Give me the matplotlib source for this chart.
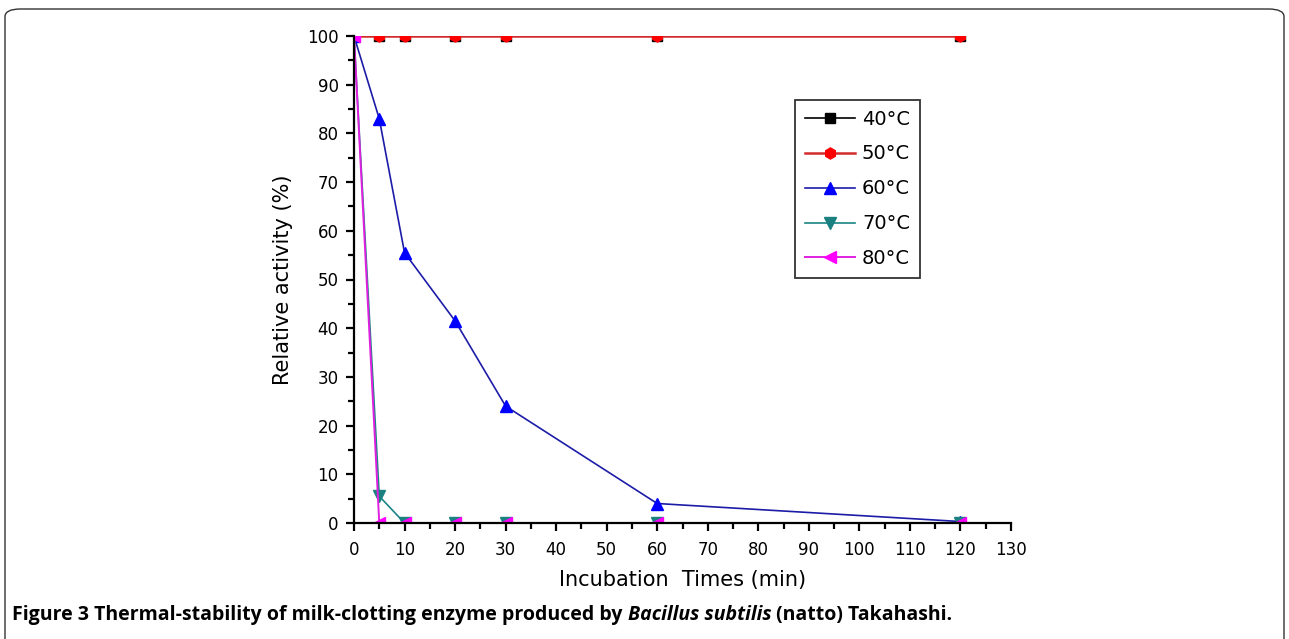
import matplotlib
matplotlib.use("Agg")
import matplotlib.pyplot as plt
from matplotlib.patches import FancyBboxPatch
from matplotlib.ticker import MultipleLocator

# datos
tiempos = [0, 5, 10, 20, 30, 60, 120]
act_40 = [100, 100, 100, 100, 100, 100, 100]
act_50 = [100, 100, 100, 100, 100, 100, 100]
act_60 = [100, 83, 55.5, 41.5, 24, 4, 0.3]
act_70 = [100, 5.5, 0, 0, 0, 0, 0]
act_80 = [100, 0, 0, 0, 0, 0, 0]
etiquetas = ["40°C", "50°C", "60°C", "70°C", "80°C"]

plt.rcParams['font.family'] = ['DejaVu Sans']

fig = plt.figure(figsize=(12.89, 6.39), dpi=100)
ax = fig.add_axes([354/1289, 1-523/639, (1011-354)/1289, (523-36)/639])

ax.plot(tiempos, act_40, color='black', marker='s', ms=7, lw=1.2, label=etiquetas[0])
ax.plot(tiempos, act_50, color='#d42a2a', marker='h', mfc='red', mec='red', ms=8, lw=1.8, label=etiquetas[1])
ax.plot(tiempos, act_60, color='#1c1ca8', marker='^', mfc='blue', mec='blue', ms=8, lw=1.2, label=etiquetas[2])
ax.plot(tiempos, act_70, color='#1a8585', marker='v', mfc='#1a8080', mec='#1a8080', ms=8, lw=1.2, label=etiquetas[3])
ax.plot(tiempos, act_80, color='#e020e0', marker='<', mfc='magenta', mec='magenta', ms=8, lw=1.4, label=etiquetas[4])

ax.set_xlim(0, 130)
ax.set_ylim(0, 100)
ax.xaxis.set_major_locator(MultipleLocator(10))
ax.xaxis.set_minor_locator(MultipleLocator(5))
ax.yaxis.set_major_locator(MultipleLocator(10))
ax.yaxis.set_minor_locator(MultipleLocator(5))
for s in ['top', 'right']:
    ax.spines[s].set_visible(False)
for s in ['left', 'bottom']:
    ax.spines[s].set_linewidth(1.6)
ax.tick_params(which='major', direction='out', length=6, width=1.6, labelsize=12, pad=5)
ax.tick_params(axis='x', which='major', pad=7)
ax.tick_params(which='minor', direction='out', length=4, width=1.6)

ax.set_xlabel('Incubation  Times (min)', fontsize=15, labelpad=8)
ax.set_ylabel('Relative activity (%)', fontsize=15, labelpad=10)

leg = ax.legend(loc='upper left', bbox_to_anchor=(0.671, 0.869), fontsize=14,
                frameon=True, fancybox=False, edgecolor='black', handlelength=2.6,
                labelspacing=0.82, borderpad=0.5, handletextpad=0.35,
                borderaxespad=0)
leg.get_frame().set_linewidth(1.3)

# marco redondeado de la figura
marco = FancyBboxPatch((5/1289, -0.05), 1279/1289, 1.05 - 9/639,
                       boxstyle="round,pad=0,rounding_size=0.012",
                       transform=fig.transFigure, fill=False, ec='#333333', lw=1.0)
fig.patches.append(marco)

# pie de figura con estilos mezclados
t = fig.text(12/1289, 1-620/639, "Figure 3", fontsize=14, fontweight='bold', family='Open Sans')
partes = [(" Thermal-stability of milk-clotting enzyme produced by ", 'normal'),
          ("Bacillus subtilis", 'italic'),
          (" (natto) Takahashi.", 'normal')]
for txt, st in partes:
    t = ax.annotate(txt, xy=(1, 0), xycoords=t, xytext=(0, 0), textcoords='offset points',
                    fontsize=14, fontweight='bold', fontstyle=st, family='Open Sans',
                    va='bottom', ha='left', annotation_clip=False)

fig.savefig('out.png', dpi=100)
